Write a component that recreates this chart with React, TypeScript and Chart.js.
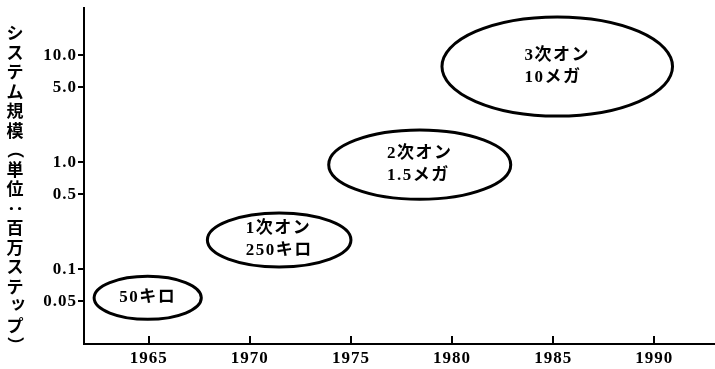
import React, { useEffect, useRef } from "react";
import { Chart, registerables } from "chart.js";

Chart.register(...registerables);

// ---- data ----
const stageNames = ["", "1次オン", "2次オン", "3次オン"];
const stageSizes = ["50キロ", "250キロ", "1.5メガ", "10メガ"];
const startYears = [1962.3, 1967.9, 1973.9, 1979.5];
const endYears = [1967.6, 1975.0, 1982.9, 1990.9];
const minSizes = [0.034, 0.105, 0.45, 2.7];
const maxSizes = [0.086, 0.335, 2.0, 22.8];

const xTickValues = [1965, 1970, 1975, 1980, 1985, 1990];
const yTickValues = [0.05, 0.1, 0.5, 1, 5, 10];
const yTickLabels = ["0.05", "0.1", "0.5", "1.0", "5.0", "10.0"];
const yTitle = "システム規模（単位：百万ステップ）";

const X_MIN = 1961.8;
const X_MAX = 1993.0;
const Y_MIN = 0.02;
const Y_MAX = 27.6;

const SERIF = "'Liberation Serif', 'Noto Sans CJK JP', serif";
const CJK = "'Noto Sans CJK JP', sans-serif";

const spacingPlugin = {
  id: "letterSpacing",
  beforeDraw(chart: any) {
    try {
      (chart.ctx as any).letterSpacing = "1px";
    } catch (e) {}
  },
};

const ellipsePlugin = {
  id: "stageEllipses",
  afterDatasetsDraw(chart: any) {
    const { ctx, scales } = chart;
    const xs = scales.x;
    const ys = scales.y;
    ctx.save();
    for (let i = 0; i < startYears.length; i++) {
      const x1 = xs.getPixelForValue(startYears[i]);
      const x2 = xs.getPixelForValue(endYears[i]);
      const y1 = ys.getPixelForValue(maxSizes[i]);
      const y2 = ys.getPixelForValue(minSizes[i]);
      const cx = (x1 + x2) / 2;
      const cy = (y1 + y2) / 2;
      ctx.beginPath();
      ctx.ellipse(cx, cy, Math.abs(x2 - x1) / 2, Math.abs(y2 - y1) / 2, 0, 0, Math.PI * 2);
      ctx.lineWidth = 3;
      ctx.strokeStyle = "#000";
      ctx.stroke();

      ctx.fillStyle = "#000";
      ctx.font = `bold 17px ${SERIF}`;
      (ctx as any).letterSpacing = "1.5px";
      ctx.textBaseline = "middle";
      const lines = [stageNames[i], stageSizes[i]].filter((s) => s.length > 0);
      const widths = lines.map((l) => ctx.measureText(l).width);
      const maxW = Math.max(...widths);
      const left = cx - maxW / 2;
      const lh = 22;
      const top = cy - ((lines.length - 1) * lh) / 2;
      ctx.textAlign = "left";
      lines.forEach((l, k) => {
        ctx.fillText(l, lines.length === 1 ? cx - widths[k] / 2 : left, top + k * lh);
      });
    }
    (ctx as any).letterSpacing = "0px";

    // inward tick marks on x axis
    ctx.lineWidth = 2;
    ctx.strokeStyle = "#000";
    const bottom = chart.chartArea.bottom;
    xTickValues.forEach((v) => {
      const px = Math.round(xs.getPixelForValue(v));
      ctx.beginPath();
      ctx.moveTo(px, bottom);
      ctx.lineTo(px, bottom - 8);
      ctx.stroke();
    });

    // vertical y-axis title (upright characters)
    const chars = Array.from(yTitle);
    ctx.font = `bold 17px ${CJK}`;
    ctx.textAlign = "center";
    ctx.textBaseline = "middle";
    const startY = 33;
    const step = 19.5;
    chars.forEach((c, k) => {
      const y = startY + k * step;
      const x = 15;
      if (c === "（" || c === "）" || c === "：") {
        ctx.save();
        ctx.translate(x, y);
        ctx.rotate(Math.PI / 2);
        ctx.fillText(c, 0, 0);
        ctx.restore();
      } else if (c === "ッ") {
        ctx.fillText(c, x + 3, y - 3);
      } else {
        ctx.fillText(c, x, y);
      }
    });
    ctx.restore();
  },
};

export default function App() {
  const ref = useRef<HTMLCanvasElement | null>(null);

  useEffect(() => {
    if (!ref.current) return;
    const centers = startYears.map((s, i) => ({
      x: (s + endYears[i]) / 2,
      y: Math.sqrt(minSizes[i] * maxSizes[i]),
    }));
    const chart = new Chart(ref.current, {
      type: "scatter",
      data: {
        datasets: [
          {
            data: centers,
            pointRadius: 0,
            pointHoverRadius: 0,
            showLine: false,
          },
        ],
      },
      options: {
        animation: false,
        responsive: false,
        devicePixelRatio: 1,
        events: [],
        layout: { padding: { top: 8, left: 0, right: 0, bottom: 0 } },
        plugins: {
          legend: { display: false },
          tooltip: { enabled: false },
          title: { display: false },
        },
        scales: {
          x: {
            type: "linear",
            min: X_MIN,
            max: X_MAX,
            bounds: "data",
            grid: { display: false, drawTicks: false },
            border: { display: true, color: "#000", width: 2 },
            ticks: {
              color: "#000",
              font: { family: SERIF, size: 17, weight: "bold" },
              padding: 4,
              autoSkip: false,
              maxRotation: 0,
              callback: (v: any) => String(v),
            },
            afterBuildTicks: (scale: any) => {
              scale.ticks = xTickValues.map((v) => ({ value: v }));
            },
            afterFit: (scale: any) => {
              scale.height = 25;
              scale.paddingLeft = 0;
              scale.paddingRight = 0;
            },
          },
          y: {
            type: "logarithmic",
            min: Y_MIN,
            max: Y_MAX,
            bounds: "data",
            grid: {
              display: true,
              drawOnChartArea: false,
              drawTicks: true,
              tickLength: 6,
              color: "#000",
              lineWidth: 2,
            },
            border: { display: true, color: "#000", width: 2 },
            ticks: {
              color: "#000",
              font: { family: SERIF, size: 17, weight: "bold" },
              padding: 1,
              autoSkip: false,
              callback: (v: any) => {
                const idx = yTickValues.findIndex((t) => Math.abs(t - v) < 1e-9);
                return idx >= 0 ? yTickLabels[idx] : "";
              },
            },
            afterBuildTicks: (scale: any) => {
              scale.ticks = yTickValues.map((v) => ({ value: v }));
            },
            afterFit: (scale: any) => {
              scale.width = 84;
              scale.paddingTop = 0;
              scale.paddingBottom = 0;
            },
          },
        },
      },
      plugins: [spacingPlugin, ellipsePlugin],
    });
    return () => chart.destroy();
  }, []);

  return (
    <div style={{ position: "fixed", left: 0, top: 0, width: 715, height: 369, background: "#fff" }}>
      <canvas ref={ref} width={715} height={369} style={{ display: "block" }} />
    </div>
  );
}
